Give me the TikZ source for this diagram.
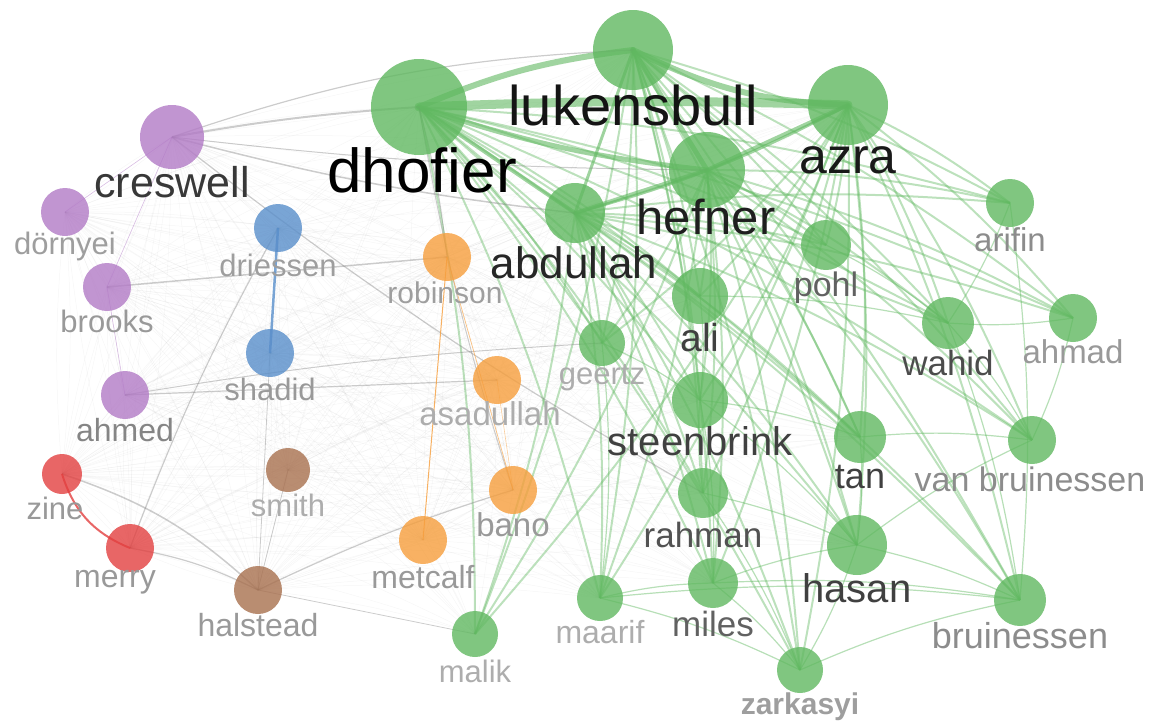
\documentclass[tikz,border=0pt]{standalone}
\usepackage{fontspec}
\setmainfont{Liberation Sans}
\usetikzlibrary{backgrounds}
\definecolor{grn}{RGB}{96,184,96}
\definecolor{prp}{RGB}{178,122,198}
\definecolor{blu}{RGB}{88,142,202}
\definecolor{org}{RGB}{246,158,60}
\definecolor{rd}{RGB}{226,64,64}
\definecolor{brn}{RGB}{168,112,78}

\begin{document}
\begin{tikzpicture}[x=1pt,y=-1pt,
    bub/.style={circle, inner sep=0pt, fill=#1, fill opacity=.8},
    lab/.style={font=\fontsize{#1}{#1}\selectfont, inner sep=0pt},
    gcore/.style={draw=grn, opacity=.6, line cap=round},
    gedge/.style={draw=grn, line width=2pt, opacity=.42},
    gthin/.style={draw=grn, line width=1.2pt, opacity=.45},
    gweb/.style={draw=gray, line width=.5pt, opacity=.07},
    gmid/.style={draw=gray, opacity=.4}]
\useasboundingbox (0,0) rectangle (1160,724);

% clusters
\foreach \n/\x/\y/\d in {dhofier/419/107/96, lukensbull/633/50/80, azra/848/105/80,
    hefner/707/170/76, abdullah/575/213/60, arifin/1010/203/48, pohl/826/245/50,
    ali/700/296/56, ahmad/1073/318/48, wahid/948/323/52, geertz/602/343/46,
    steenbrink/700/400/56, tan/860/437/52, vanbruinessen/1032/440/48,
    rahman/703/493/50, hasan/857/545/60, miles/713/583/50, maarif/600/598/46,
    bruinessen/1020/600/52, malik/475/634/46, zarkasyi/800/670/46}
  \node[bub=grn, minimum size=\d] (\n) at (\x,\y) {};
\foreach \n/\x/\y/\d in {creswell/172/137/64, dornyei/65/212/48, brooks/107/287/48, ahmed/125/395/48}
  \node[bub=prp, minimum size=\d] (\n) at (\x,\y) {};
\foreach \n/\x/\y/\d in {driessen/278/228/48, shadid/270/353/48}
  \node[bub=blu, minimum size=\d] (\n) at (\x,\y) {};
\foreach \n/\x/\y/\d in {robinson/447/257/48, asadullah/497/380/48, bano/513/490/48, metcalf/423/540/48}
  \node[bub=org, minimum size=\d] (\n) at (\x,\y) {};
\foreach \n/\x/\y/\d in {zine/62/474/40, merry/130/548/48}
  \node[bub=rd, minimum size=\d] (\n) at (\x,\y) {};
\foreach \n/\x/\y/\d in {smith/288/470/44, halstead/258/590/48}
  \node[bub=brn, minimum size=\d] (\n) at (\x,\y) {};

% links
\begin{scope}[on background layer]
  \foreach \a in {creswell,dornyei,brooks,ahmed,driessen,shadid,robinson,asadullah,bano,metcalf,zine,merry,smith,halstead}
    \foreach \b in {creswell,dornyei,brooks,ahmed,driessen,shadid,robinson,asadullah,bano,metcalf,zine,merry,smith,halstead,
                    dhofier,lukensbull,azra,hefner,abdullah,steenbrink,geertz,ali,hasan,miles,maarif,malik,rahman,tan}
      \draw[gweb] (\a.center) to[bend left=5] (\b.center);
  \foreach \a in {dhofier,lukensbull,azra,hefner,abdullah}
    \foreach \b in {arifin,pohl,ali,ahmad,wahid,geertz,steenbrink,tan,vanbruinessen,
                    rahman,hasan,miles,maarif,bruinessen,malik,zarkasyi}
      \draw[gedge] (\a.center) to[bend left=6] (\b.center);
  \foreach \a/\b in {steenbrink/tan, tan/vanbruinessen, hasan/bruinessen, miles/bruinessen,
      maarif/bruinessen, maarif/miles, miles/zarkasyi, hasan/zarkasyi, zarkasyi/bruinessen,
      hasan/vanbruinessen, wahid/bruinessen, wahid/vanbruinessen, ahmad/wahid, arifin/wahid,
      ali/steenbrink, rahman/steenbrink, rahman/hasan, miles/hasan, steenbrink/hasan,
      geertz/steenbrink, maarif/zarkasyi, rahman/zarkasyi, tan/hasan, pohl/wahid,
      arifin/bruinessen, ahmad/vanbruinessen, ali/wahid, geertz/maarif, steenbrink/miles}
    \draw[gthin] (\a.center) to[bend left=6] (\b.center);
  \draw[gcore, line width=9pt] (dhofier.center) to[bend left=2] (azra.center);
  \draw[gcore, line width=6pt] (dhofier.center) to[bend left=8] (lukensbull.center);
  \draw[gcore, line width=6pt] (lukensbull.center) to[bend right=12] (azra.center);
  \draw[gcore, line width=5pt] (lukensbull.center) -- (hefner.center);
  \draw[gcore, line width=5pt] (dhofier.center) to[bend right=6] (hefner.center);
  \draw[gcore, line width=4pt] (azra.center) -- (hefner.center);
  \draw[gcore, line width=4pt] (dhofier.center) -- (abdullah.center);
  \draw[gcore, line width=4pt] (abdullah.center) -- (hefner.center);
  \draw[gcore, line width=3pt] (lukensbull.center) -- (abdullah.center);
  \draw[gcore, line width=3pt] (azra.center) to[bend left=6] (abdullah.center);
  \draw[gmid, line width=2pt] (creswell.center) to[bend left=3] (dhofier.center);
  \draw[gmid, line width=1.2pt] (creswell.center) to[bend left=8] (lukensbull.center);
  \draw[gmid, line width=1.5pt] (creswell.center) to[bend right=4] (abdullah.center);
  \draw[gmid, line width=1pt] (creswell.center) to[bend right=3] (hefner.center);
  \draw[gmid, line width=1.2pt] (creswell.center) to[bend right=4] (rahman.center);
  \draw[gmid, line width=1.5pt] (brooks.center) -- (robinson.center);
  \draw[gmid, line width=1.2pt] (ahmed.center) -- (asadullah.center);
  \draw[gmid, line width=1pt] (ahmed.center) to[bend left=3] (geertz.center);
  \draw[gmid, line width=1.5pt] (zine.center) to[bend left=12] (halstead.center);
  \draw[gmid, line width=1.2pt] (merry.center) to[bend left=8] (halstead.center);
  \draw[gmid, line width=1.2pt] (merry.center) to[bend left=4] (driessen.center);
  \draw[gmid, line width=1.2pt] (halstead.center) to[bend left=4] (bano.center);
  \draw[gmid, line width=.8pt] (halstead.center) -- (smith.center);
  \draw[gmid, line width=.8pt] (halstead.center) -- (shadid.center);
  \draw[gmid, line width=.8pt] (halstead.center) -- (malik.center);
  \draw[gmid, line width=1pt] (dhofier.center) to[bend left=4] (robinson.center);
  \draw[gmid, line width=1pt] (dhofier.center) to[bend right=4] (bano.center);
  \draw[draw=blu, line width=2.5pt, opacity=.8] (driessen.center) -- (shadid.center);
  \draw[draw=rd, line width=2pt, opacity=.8] (zine.center) to[bend right=25] (merry.center);
  \draw[draw=org, line width=1pt, opacity=.8] (robinson.center) -- (metcalf.center);
  \draw[draw=org, line width=.8pt, opacity=.6] (robinson.center) -- (bano.center);
  \draw[draw=org, line width=.6pt, opacity=.5] (asadullah.center) -- (bano.center);
  \draw[draw=prp, line width=.6pt, opacity=.5] (dornyei.center) -- (creswell.center);
  \draw[draw=prp, line width=.6pt, opacity=.5] (brooks.center) -- (creswell.center);
  \draw[draw=prp, line width=.6pt, opacity=.5] (ahmed.center) -- (brooks.center);
\end{scope}

% labels
\foreach \n/\x/\y/\f/\c/\t in {dhofier/422/170/62/black/dhofier, lukensbull/633/105/56/black!92/lukensbull,
    azra/848/160/50/black!90/azra, hefner/706/217/49/black!88/hefner, abdullah/574/263/44/black!85/abdullah,
    creswell/172/182/43/black!78/creswell, dornyei/65/246/31/black!38/dörnyei,
    driessen/278/265/31/black!38/driessen, robinson/445/293/30/black!38/robinson,
    brooks/107/321/31/black!40/brooks, ali/700/338/39/black!75/ali, pohl/826/288/34/black!62/pohl,
    arifin/1010/240/33/black!45/arifin, ahmad/1073/352/33/black!40/ahmad, wahid/948/363/35/black!70/wahid,
    geertz/602/378/31/black!32/geertz, shadid/270/389/31/black!40/shadid,
    asadullah/490/414/33/black!32/asadullah, ahmed/125/430/32/black!48/ahmed,
    steenbrink/700/441/40/black!75/steenbrink, tan/860/477/36/black!75/tan,
    vanbruinessen/1030/479/34/black!45/van bruinessen, zine/55/508/31/black!40/zine,
    smith/288/505/31/black!32/smith, bano/513/525/33/black!40/bano, rahman/703/535/35/black!68/rahman,
    merry/115/582/32/black!40/merry, metcalf/423/577/32/black!40/metcalf, hasan/857/588/40/black!75/hasan,
    miles/713/624/35/black!62/miles, maarif/600/632/32/black!32/maarif,
    bruinessen/1020/636/36/black!45/bruinessen, halstead/258/625/32/black!40/halstead,
    malik/475/671/31/black!32/malik}
  \node[lab=\f, text=\c] (\n-l) at (\x,\y) {\t};
\node[lab=30, text=black!38] (zarkasyi-l) at (800,707) {\bfseries zarkasyi};
\end{tikzpicture}
\end{document}
